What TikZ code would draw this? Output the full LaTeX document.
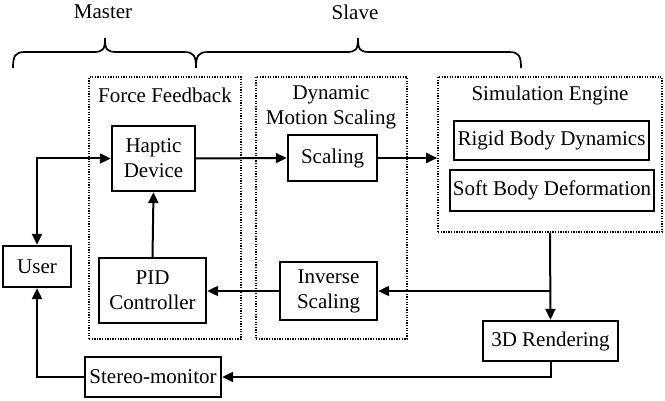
\documentclass[tikz,border=0pt]{standalone}
\usepackage{fontspec}
\setmainfont{Liberation Serif}
\usetikzlibrary{arrows.meta}
\begin{document}
\begin{tikzpicture}[x=1pt,y=-1pt,
  box/.style={draw,line width=2.3pt,inner sep=0pt,align=center,font=\fontsize{21}{25}\selectfont},
  dots/.style={draw,line width=1.6pt,dash pattern=on 1.3pt off 1.3pt,inner sep=0pt},
  lbl/.style={align=center,font=\fontsize{21}{25}\selectfont,inner sep=0pt},
  arr/.style={line width=2pt,-{Triangle[length=11pt,width=10pt]}},
  ln/.style={line width=2pt}]
\useasboundingbox (0,0) rectangle (665,401);
% braces
\draw[line width=1.7pt] (13,68) .. controls (13,56) and (15,52) .. (25,52) -- (93,52) .. controls (103,52) and (105,50) .. (105,38) .. controls (105,50) and (107,52) .. (117,52) -- (184,52) .. controls (194,52) and (196,56) .. (196,68);
\draw[line width=1.7pt] (196,68) .. controls (196,56) and (198,52) .. (208,52) -- (346,52) .. controls (356,52) and (358,50) .. (358,38) .. controls (358,50) and (360,52) .. (370,52) -- (509,52) .. controls (519,52) and (521,56) .. (521,68);
\node[lbl] (master) at (103,12) {Master};
\node[lbl] (slave) at (355,12) {Slave};
% dotted groups
\node[dots,minimum width=152pt,minimum height=262pt] (ff) at (165,208) {};
\node[dots,minimum width=151pt,minimum height=262pt] (dms) at (331.5,208) {};
\node[dots,minimum width=224pt,minimum height=155pt] (se) at (550,154.5) {};
\node[lbl] (fflbl) at (165,95) {Force Feedback};
\node[lbl] (dmslbl) at (331,107.5) {Dynamic\\Motion Scaling};
\node[lbl] (selbl) at (550,95) {Simulation Engine};
% boxes
\node[box,minimum width=83pt,minimum height=65pt] (haptic) at (153.5,158.5) {Haptic\\Device};
\node[box,minimum width=68pt,minimum height=41pt] (user) at (37,266.5) {User};
\node[box,minimum width=107pt,minimum height=65pt] (pid) at (152.5,290.5) {PID\\Controller};
\node[box,minimum width=136pt,minimum height=40pt] (stereo) at (153,377) {Stereo-monitor};
\node[box,minimum width=89pt,minimum height=46pt] (scal) at (332.5,158) {Scaling};
\node[box,minimum width=195pt,minimum height=39pt] (rigid) at (551.5,140.5) {Rigid Body Dynamics};
\node[box,minimum width=204pt,minimum height=41pt] (soft) at (552,190.5) {Soft Body Deformation};
\node[box,minimum width=97pt,minimum height=58pt] (inv) at (328.5,291) {Inverse\\Scaling};
\node[box,minimum width=135pt,minimum height=40pt] (rend) at (550.5,341) {3D Rendering};
% connectors
\draw[arr] (haptic.east) -- (scal.west);
\draw[arr] (scal.east) -- (scal.east -| se.west);
\draw[arr] (se.south) -- (rend.north);
\draw[arr] (se.south |- inv.east) -- (inv.east);
\draw[arr] (inv.west) -- (inv.west -| pid.east);
\draw[arr] (pid.north) -- (haptic.south);
\draw[line width=2pt,{Triangle[length=11pt,width=10pt]}-{Triangle[length=11pt,width=10pt]}] (user.north) |- (haptic.west);
\draw[arr] (rend.south) |- (stereo.east);
\draw[arr] (stereo.west) -| (user.south);
\end{tikzpicture}
\end{document}
